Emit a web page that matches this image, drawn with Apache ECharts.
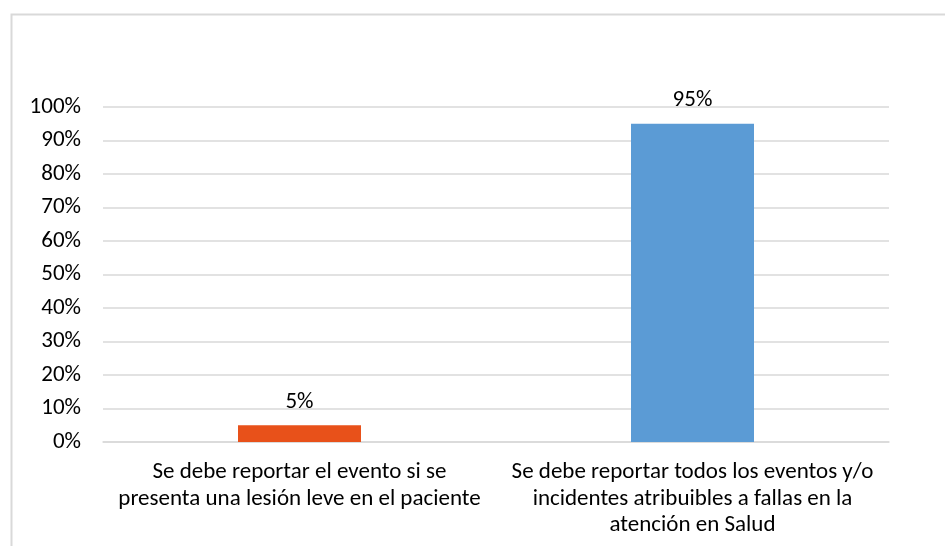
<!DOCTYPE html>
<html>
<head>
<meta charset="utf-8">
<script src="https://cdn.jsdelivr.net/npm/echarts@6/dist/echarts.min.js"></script>
<style>
  html, body { margin: 0; padding: 0; background: #ffffff; }
  #chart { width: 945px; height: 546px; }
</style>
</head>
<body>
<div id="chart"></div>
<script>
const categories = [
  "Se debe reportar el evento si se\npresenta una lesión leve en el paciente",
  "Se debe reportar todos los eventos y/o\nincidentes atribuibles a fallas en la\natención en Salud"
];
const values = [0.05, 0.95];
const barColors = ["#E8511A", "#5B9BD5"];
const yTicks = { min: 0, max: 1, interval: 0.1 };

const FONT = "Carlito, Lato, 'Open Sans', sans-serif";
const FS = 23;

const chart = echarts.init(document.getElementById('chart'), null, { renderer: 'canvas' });
chart.setOption({
  animation: false,
  backgroundColor: '#ffffff',
  graphic: [{
    type: 'rect',
    shape: { x: 11.5, y: 14.5, width: 1000, height: 700 },
    style: { fill: 'none', stroke: '#d9d9d9', lineWidth: 2 },
    silent: true
  }],
  grid: { left: 103, right: 56, top: 107, bottom: 104, containLabel: false },
  xAxis: {
    type: 'category',
    data: categories,
    axisLine: { show: true, lineStyle: { color: '#d9d9d9', width: 1.5 } },
    axisTick: { show: false },
    axisLabel: {
      interval: 0,
      color: '#000000',
      fontFamily: FONT,
      fontSize: FS,
      lineHeight: 26.5,
      margin: 17
    }
  },
  yAxis: {
    type: 'value',
    min: yTicks.min,
    max: yTicks.max,
    interval: yTicks.interval,
    axisLine: { show: false },
    axisTick: { show: false },
    splitLine: { lineStyle: { color: '#d9d9d9', width: 1.5 } },
    axisLabel: {
      color: '#000000',
      fontFamily: FONT,
      fontSize: FS,
      margin: 22,
      formatter: v => Math.round(v * 100) + '%'
    }
  },
  series: [{
    type: 'bar',
    data: values.map((v, i) => ({ value: v, itemStyle: { color: barColors[i] } })),
    barWidth: 123,
    label: {
      show: true,
      position: 'top',
      distance: 12,
      color: '#000000',
      fontFamily: FONT,
      fontSize: FS,
      formatter: p => Math.round(p.value * 100) + '%'
    }
  }]
});
</script>
</body>
</html>
